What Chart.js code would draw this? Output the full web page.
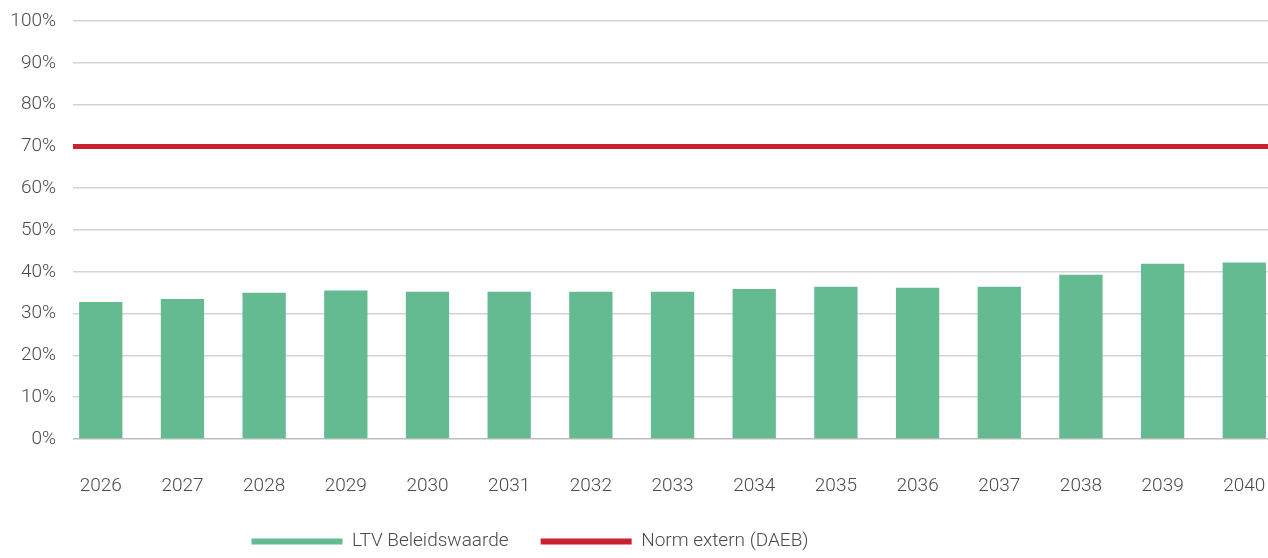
<!DOCTYPE html>
<html>
<head>
<meta charset="utf-8">
<script src="https://cdn.jsdelivr.net/npm/chart.js@4/dist/chart.umd.min.js"></script>
<style>
  html, body { margin: 0; padding: 0; background: #fff; overflow: hidden; }
  #wrap { width: 1268px; height: 558px; position: relative; }
</style>
</head>
<body>
<div id="wrap"><canvas id="ltvChart"></canvas></div>
<script>
// jaren en LTV op beleidswaarde (%)
const jaren = [2026, 2027, 2028, 2029, 2030, 2031, 2032, 2033, 2034, 2035, 2036, 2037, 2038, 2039, 2040];
const ltvBeleidswaarde = [32.8, 33.5, 35.0, 35.5, 35.2, 35.2, 35.2, 35.2, 35.9, 36.4, 36.2, 36.4, 39.3, 41.9, 42.2];
const normExtern = 70;
const yTicks = [0, 10, 20, 30, 40, 50, 60, 70, 80, 90, 100];

// x-as grenzen (de grafiek is rechts afgesneden)
const xMin = 2025.66;
const xMax = 2040.29;

const fontFam = "Roboto, 'Noto Sans', sans-serif";
const fontW = "300";
const textKleur = "#4a4a4a";

// legenda staat iets links van het midden
const legendaShift = -104;
const legendaPlugin = {
    id: "legendaShift",
    afterLayout(chart) {
        chart.legend.left += legendaShift;
        chart.legend.right += legendaShift;
    }
};

const ctx = document.getElementById("ltvChart").getContext("2d");
new Chart(ctx, {
    type: "bar",
    data: {
        datasets: [{
            type: "bar",
            label: "LTV Beleidswaarde",
            data: jaren.map((j, i) => ({ x: j, y: ltvBeleidswaarde[i] })),
            backgroundColor: "#65bb91",
            borderWidth: 0,
            barPercentage: 0.53,
            categoryPercentage: 1,
            order: 2
        }, {
            type: "line",
            label: "Norm extern (DAEB)",
            data: [{ x: xMin, y: normExtern }, { x: xMax, y: normExtern }],
            borderColor: "#c82130",
            backgroundColor: "#c82130",
            borderWidth: 5,
            pointRadius: 0,
            order: 1
        }]
    },
    options: {
        responsive: true,
        maintainAspectRatio: false,
        animation: false,
        layout: { padding: { top: 21, right: 0, bottom: 0, left: 0 } },
        scales: {
            x: {
                type: "linear",
                min: xMin,
                max: xMax,
                offset: false,
                afterFit: s => { s.paddingRight = 0; s.paddingLeft = 0; s.height = 61; },
                grid: { display: false, drawTicks: false, offset: false },
                border: { display: false },
                ticks: {
                    stepSize: 1,
                    includeBounds: false,
                    autoSkip: false,
                    maxRotation: 0,
                    padding: 36,
                    color: textKleur,
                    font: { family: fontFam, size: 19, weight: fontW },
                    callback: v => Number.isInteger(v) ? String(v) : ""
                }
            },
            y: {
                min: 0,
                max: 100,
                afterFit: s => { s.width = 73; s.paddingTop = 0; s.paddingBottom = 0; },
                afterBuildTicks: s => { s.ticks = yTicks.map(v => ({ value: v })); },
                grid: {
                    drawTicks: false,
                    lineWidth: 1.5,
                    color: c => c.tick && c.tick.value === 0 ? "#bdbdbd" : "#d3d3d3"
                },
                border: { display: false },
                ticks: {
                    padding: 17,
                    color: textKleur,
                    font: { family: fontFam, size: 19, weight: fontW },
                    callback: v => v + "%"
                }
            }
        },
        plugins: {
            legend: {
                position: "bottom",
                maxHeight: 58,
                labels: {
                    boxWidth: 91,
                    boxHeight: 6,
                    padding: 32,
                    color: textKleur,
                    font: { family: fontFam, size: 19, weight: fontW },
                    generateLabels: chart => chart.data.datasets.map((d, i) => ({
                        text: d.label,
                        fillStyle: d.type === "line" ? d.borderColor : d.backgroundColor,
                        strokeStyle: "rgba(0,0,0,0)",
                        lineWidth: 0,
                        fontColor: textKleur,
                        datasetIndex: i
                    }))
                }
            },
            tooltip: { enabled: false }
        }
    },
    plugins: [legendaPlugin]
});
</script>
</body>
</html>
